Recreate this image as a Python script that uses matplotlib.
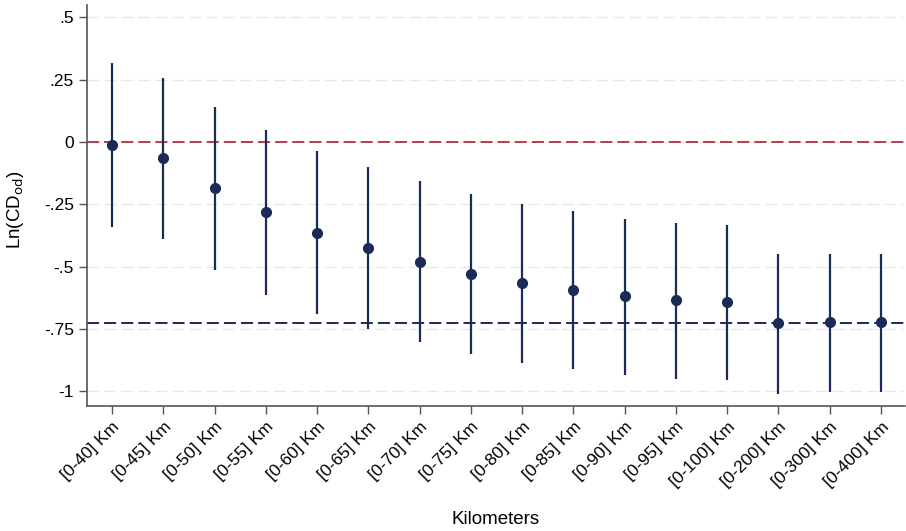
import numpy as np
import matplotlib.pyplot as plt

plt.rcParams['font.family'] = ['Liberation Sans', 'DejaVu Sans']

labels = ["[0-40] Km", "[0-45] Km", "[0-50] Km", "[0-55] Km", "[0-60] Km",
          "[0-65] Km", "[0-70] Km", "[0-75] Km", "[0-80] Km", "[0-85] Km",
          "[0-90] Km", "[0-95] Km", "[0-100] Km", "[0-200] Km", "[0-300] Km",
          "[0-400] Km"]

coef = [-0.013, -0.065, -0.186, -0.282, -0.364, -0.426, -0.479, -0.529,
        -0.567, -0.595, -0.619, -0.635, -0.641, -0.727, -0.723, -0.723]
ci_hi = [0.316, 0.258, 0.142, 0.048, -0.036, -0.100, -0.155, -0.210,
         -0.249, -0.278, -0.308, -0.324, -0.332, -0.447, -0.447, -0.447]
ci_lo = [-0.342, -0.389, -0.513, -0.612, -0.690, -0.751, -0.801, -0.849,
         -0.885, -0.909, -0.932, -0.948, -0.952, -1.010, -1.004, -1.004]

ref_zero = 0.0
ref_long = -0.727

navy = "#1a2b56"
red = "#b0404a"

x = np.arange(len(labels))

fig = plt.figure(figsize=(9.06, 5.31), dpi=100)
ax = fig.add_axes([0.096, 0.235, 0.903, 0.756])

yticks = [0.5, 0.25, 0, -0.25, -0.5, -0.75, -1]
ytick_labels = [".5", ".25", "0", "-.25", "-.5", "-.75", "-1"]
for yt in yticks:
    ax.axhline(yt, color="#e8e8e8", lw=1.0, ls=(0, (8.6, 3.6)), zorder=0)

ax.axhline(ref_zero, color=red, lw=1.4, ls=(0, (6.2, 2.6)), zorder=1)
ax.axhline(ref_long, color=navy, lw=1.4, ls=(0, (6.2, 2.6)), zorder=1)

ax.vlines(x, ci_lo, ci_hi, color=navy, lw=1.6, zorder=2)
ax.plot(x, coef, "o", color=navy, ms=7, zorder=3)

ax.set_xlim(-0.49, 15.47)
ax.set_ylim(-1.059, 0.55)
ax.set_yticks(yticks)
ax.set_yticklabels(ytick_labels, fontsize=12.5)
ax.set_xticks(x)
ax.set_xticklabels(labels, rotation=45, ha="right", rotation_mode="anchor",
                   fontsize=12.5)

for side in ["top", "right"]:
    ax.spines[side].set_visible(False)
for side in ["left", "bottom"]:
    ax.spines[side].set_color("#555555")
    ax.spines[side].set_linewidth(1.2)
ax.tick_params(axis="both", colors="#555555", labelcolor="black",
               length=6, width=1.0, direction="out")

ax.set_ylabel(r"Ln(CD$_{\mathrm{od}}$)", fontsize=13.5)
ax.yaxis.set_label_coords(-0.075, 0.49)
ax.set_xlabel("Kilometers", fontsize=13.5)
ax.xaxis.set_label_coords(0.5, -0.262)

fig.savefig("out.png", dpi=100)
